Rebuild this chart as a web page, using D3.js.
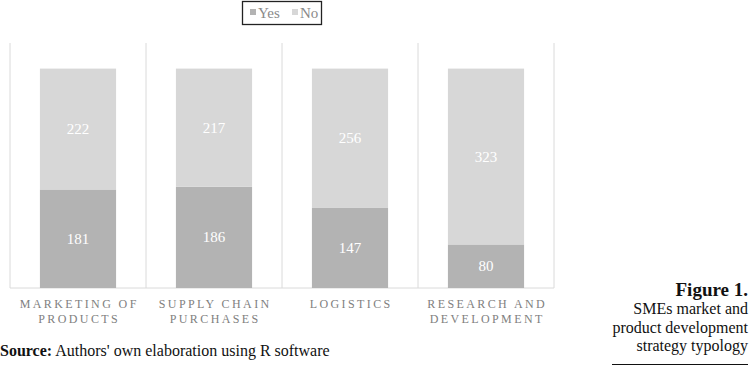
<!DOCTYPE html>
<html>
<head>
<meta charset="utf-8">
<script src="https://cdn.jsdelivr.net/npm/d3@7"></script>
<style>
  body { margin: 0; background: #fff; }
  svg { display: block; font-family: "Liberation Serif", "DejaVu Serif", serif; }
</style>
</head>
<body>
<svg id="chart"></svg>
<script>
// categories and values
const categories = ["MARKETING OF|PRODUCTS", "SUPPLY CHAIN|PURCHASES", "LOGISTICS", "RESEARCH AND|DEVELOPMENT"];
const yesValues = [181, 186, 147, 80];
const noValues = [222, 217, 256, 323];
const seriesNames = ["Yes", "No"];

var size = { width: 750, height: 366 };
var plot = { left: 10, right: 554, top: 43, bottom: 288 };

var svg = d3.select("#chart")
    .attr("width", size.width)
    .attr("height", size.height);

var rows = categories.map((c, i) => ({ cat: c, Yes: yesValues[i], No: noValues[i] }));
var stacked = d3.stack().keys(seriesNames)(rows);

var x = d3.scaleBand()
    .domain(categories)
    .range([plot.left, plot.right])
    .paddingInner(0.44)
    .paddingOuter(0.22);

var y = d3.scaleLinear()
    .domain([0, 450])
    .range([plot.bottom, plot.top]);

var color = d3.scaleOrdinal()
    .domain(seriesNames)
    .range(["#b3b3b3", "#d7d7d7"]);

// category separator lines
var step = x.step();
var seps = d3.range(categories.length + 1).map(i => plot.left + i * step);
svg.append("g").selectAll("line")
    .data(seps)
    .enter()
    .append("line")
    .attr("x1", d => d).attr("x2", d => d)
    .attr("y1", plot.top).attr("y2", plot.bottom)
    .attr("stroke", "#dadada")
    .attr("stroke-width", 1);

svg.append("line")
    .attr("x1", plot.left).attr("x2", plot.right)
    .attr("y1", plot.bottom).attr("y2", plot.bottom)
    .attr("stroke", "#dadada");

// bars
var layers = svg.append("g").selectAll("g")
    .data(stacked)
    .enter()
    .append("g")
    .attr("fill", d => color(d.key));

layers.selectAll("rect")
    .data(d => d)
    .enter()
    .append("rect")
    .attr("x", d => x(d.data.cat))
    .attr("width", x.bandwidth())
    .attr("y", d => y(d[1]))
    .attr("height", d => y(d[0]) - y(d[1]));

layers.selectAll("text")
    .data(d => d)
    .enter()
    .append("text")
    .attr("x", d => x(d.data.cat) + x.bandwidth() / 2)
    .attr("y", d => (y(d[0]) + y(d[1])) / 2 + 5)
    .attr("text-anchor", "middle")
    .attr("fill", "#fff")
    .attr("font-size", 15)
    .text(d => d[1] - d[0]);

// category labels (two lines, spaced caps)
var labels = svg.append("g").selectAll("text")
    .data(categories)
    .enter()
    .append("text")
    .attr("text-anchor", "middle")
    .attr("fill", "#808080")
    .attr("font-size", 12)
    .attr("letter-spacing", 2.4);

labels.selectAll("tspan")
    .data(d => d.split("|").map(t => ({ t: t, c: d })))
    .enter()
    .append("tspan")
    .attr("x", d => x(d.c) + x.bandwidth() / 2 + 1.2)
    .attr("y", (d, i) => 308 + i * 15)
    .text(d => d.t);

// legend
var legend = svg.append("g");
legend.append("rect")
    .attr("x", 242.5).attr("y", 1.5)
    .attr("width", 79).attr("height", 23)
    .attr("fill", "none")
    .attr("stroke", "#222")
    .attr("stroke-width", 1.3);

var legendX = [250, 292];
seriesNames.forEach((s, i) => {
    legend.append("rect")
        .attr("x", legendX[i]).attr("y", 9)
        .attr("width", 6).attr("height", 6)
        .attr("fill", color(s));
    legend.append("text")
        .attr("x", legendX[i] + 8).attr("y", 18)
        .attr("fill", "#8a8a8a")
        .attr("font-size", 15)
        .text(s);
});

// source note
var src = svg.append("text")
    .attr("x", 0).attr("y", 356)
    .attr("font-size", 16)
    .attr("fill", "#111");
src.append("tspan").attr("font-weight", "bold").text("Source:");
src.append("tspan").text(" Authors' own elaboration using R software");

// figure caption
var caption = ["SMEs market and", "product development", "strategy typology"];
svg.append("text")
    .attr("x", 748).attr("y", 296)
    .attr("text-anchor", "end")
    .attr("font-size", 19)
    .attr("font-weight", "bold")
    .attr("fill", "#111")
    .text("Figure 1.");
svg.append("g").selectAll("text")
    .data(caption)
    .enter()
    .append("text")
    .attr("x", 748)
    .attr("y", (d, i) => 314 + i * 18.5)
    .attr("text-anchor", "end")
    .attr("font-size", 16)
    .attr("fill", "#111")
    .text(d => d);

svg.append("line")
    .attr("x1", 612).attr("x2", 748)
    .attr("y1", 364.5).attr("y2", 364.5)
    .attr("stroke", "#111")
    .attr("stroke-width", 1);
</script>
</body>
</html>
